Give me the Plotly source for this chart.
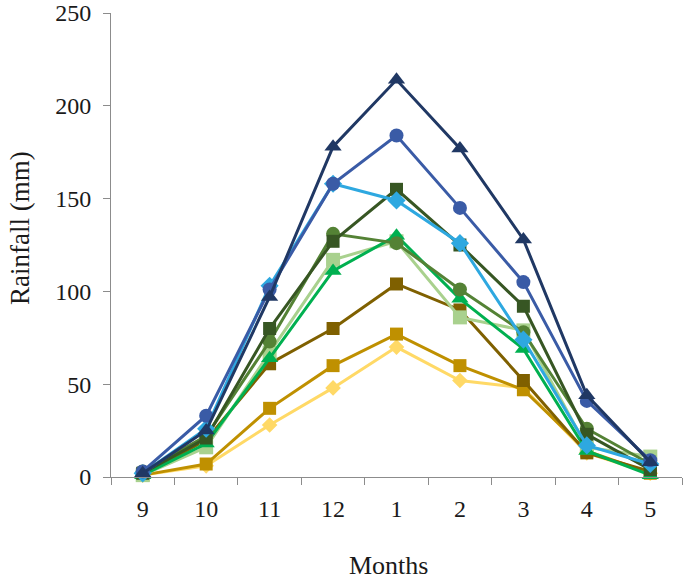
import plotly.graph_objects as go

months = ["9", "10", "11", "12", "1", "2", "3", "4", "5"]

yellow_diamond = [1, 6, 28, 48, 70, 52, 48, 13, 2]
golden_square = [1, 7, 37, 60, 77, 60, 47, 14, 2]
brown_square = [1, 20, 61, 80, 104, 90, 52, 13, 3]
lightgreen_square = [1, 16, 67, 117, 127, 86, 79, 16, 11]
green_triangle = [1, 18, 64, 111, 130, 96, 69, 14, 1]
midgreen_circle = [3, 22, 73, 131, 126, 101, 78, 26, 7]
darkgreen_square = [2, 21, 80, 127, 155, 125, 92, 23, 4]
lightblue_diamond = [2, 26, 103, 158, 149, 126, 74, 17, 7]
blue_circle = [3, 33, 101, 158, 184, 145, 105, 41, 9]
navy_triangle = [2, 25, 97, 178, 214, 177, 128, 44, 8]

series = [
    (yellow_diamond, "#FFD966", "diamond", 12),
    (golden_square, "#BF9000", "square", 13),
    (brown_square, "#7F6000", "square", 13),
    (lightgreen_square, "#A9D18E", "square", 14),
    (green_triangle, "#00B050", "triangle-up", 15),
    (midgreen_circle, "#548235", "circle", 14),
    (darkgreen_square, "#375623", "square", 13),
    (lightblue_diamond, "#2EA8E0", "diamond", 14),
    (blue_circle, "#3A5BA6", "circle", 14),
    (navy_triangle, "#203864", "triangle-up", 15),
]

fig = go.Figure()
for vals, color, sym, size in series:
    fig.add_trace(go.Scatter(
        x=months, y=vals, mode="lines+markers",
        line=dict(color=color, width=3),
        marker=dict(color=color, symbol=sym, size=size),
        showlegend=False, cliponaxis=False,
    ))

font = "Liberation Serif, Times New Roman, serif"
txt = "#1a1a1a"
fig.update_layout(
    width=685, height=580,
    margin=dict(l=111, r=3, t=13, b=103),
    paper_bgcolor="white", plot_bgcolor="white",
    font=dict(family=font, color=txt, size=24),
    xaxis=dict(
        type="category", categoryorder="array", categoryarray=months,
        range=[-0.5, 8.5], automargin=False,
        showline=True, linecolor="#8C8C8C", linewidth=1,
        ticks="outside", tickson="boundaries", ticklen=7, tickcolor="#8C8C8C",
        showgrid=False, zeroline=False, ticklabelstandoff=10,
        tickfont=dict(size=24, family=font, color=txt),
    ),
    yaxis=dict(
        range=[0, 250], tickvals=[0, 50, 100, 150, 200, 250], automargin=False,
        showline=True, linecolor="#8C8C8C", linewidth=1,
        ticks="outside", ticklen=7, tickcolor="#8C8C8C",
        showgrid=False, zeroline=False, ticklabelstandoff=7,
        tickfont=dict(size=24, family=font, color=txt),
    ),
    annotations=[
        dict(text="Months", xref="paper", yref="paper", x=(388 - 111) / 571, y=-(565 - 477) / 464,
             xanchor="center", yanchor="middle", showarrow=False,
             font=dict(size=26, family=font, color=txt)),
        dict(text="Rainfall (mm)", xref="paper", yref="paper", x=-(111 - 20) / 571, y=(477 - 228) / 464,
             xanchor="center", yanchor="middle", textangle=-90, showarrow=False,
             font=dict(size=27, family=font, color=txt)),
    ],
)

fig.write_html("out.html", config={"displayModeBar": False},
               post_script="document.body.style.margin='0';document.body.style.overflow='hidden';")
